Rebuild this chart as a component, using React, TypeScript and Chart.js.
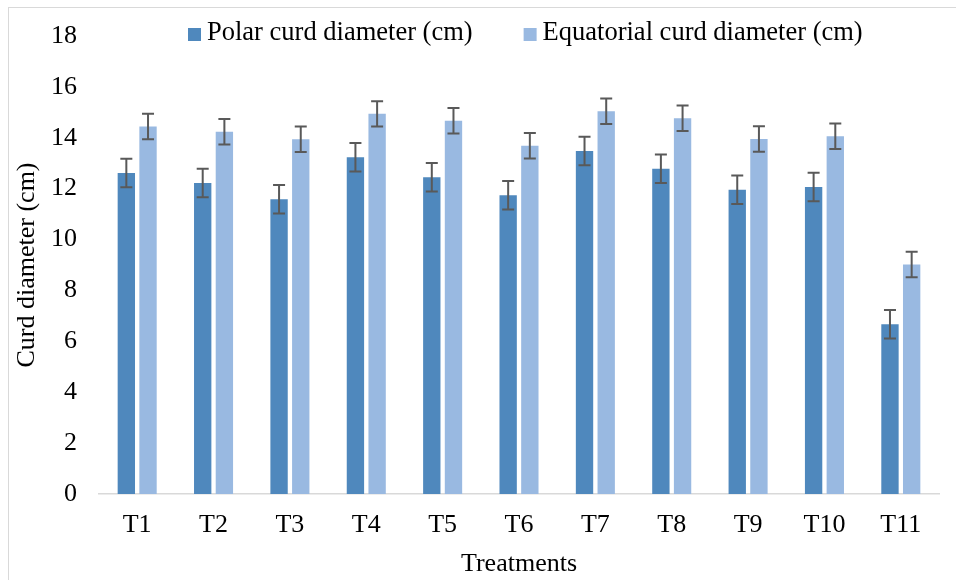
import React, { useEffect, useRef } from "react";
import { Chart, registerables } from "chart.js";

Chart.register(...registerables);

const categories = ["T1", "T2", "T3", "T4", "T5", "T6", "T7", "T8", "T9", "T10", "T11"];
const polarValues = [12.62, 12.22, 11.58, 13.23, 12.45, 11.74, 13.48, 12.78, 11.96, 12.07, 6.67];
const polarErrors = [0.56, 0.56, 0.56, 0.56, 0.56, 0.56, 0.56, 0.56, 0.56, 0.56, 0.56];
const equatorialValues = [14.44, 14.24, 13.94, 14.94, 14.67, 13.69, 15.04, 14.77, 13.95, 14.06, 9.02];
const equatorialErrors = [0.5, 0.5, 0.5, 0.5, 0.5, 0.5, 0.5, 0.5, 0.5, 0.5, 0.5];
const seriesLabels = ["Polar curd diameter (cm)", "Equatorial curd diameter (cm)"];
const yTicks = [0, 2, 4, 6, 8, 10, 12, 14, 16, 18];
const xTitle = "Treatments";
const yTitle = "Curd diameter (cm)";

const FONT = "'Liberation Serif', 'Times New Roman', serif";
const errors = [polarErrors, equatorialErrors];

const errorBarPlugin = {
  id: "errorBars",
  afterDatasetsDraw(chart: any) {
    const ctx = chart.ctx;
    const yScale = chart.scales.y;
    ctx.save();
    ctx.strokeStyle = "#595959";
    ctx.lineWidth = 2;
    chart.data.datasets.forEach((ds: any, i: number) => {
      const meta = chart.getDatasetMeta(i);
      meta.data.forEach((el: any, j: number) => {
        const v = ds.data[j];
        const e = errors[i][j];
        const x = el.x;
        const yt = yScale.getPixelForValue(v + e);
        const yb = yScale.getPixelForValue(v - e);
        const cap = 6;
        ctx.beginPath();
        ctx.moveTo(x, yt);
        ctx.lineTo(x, yb);
        ctx.moveTo(x - cap, yt);
        ctx.lineTo(x + cap, yt);
        ctx.moveTo(x - cap, yb);
        ctx.lineTo(x + cap, yb);
        ctx.stroke();
      });
    });
    ctx.restore();
  },
};

const legendPlugin = {
  id: "customLegend",
  afterDraw(chart: any) {
    const ctx = chart.ctx;
    const area = chart.chartArea;
    ctx.save();
    ctx.font = `26.5px ${FONT}`;
    ctx.textBaseline = "middle";
    ctx.textAlign = "left";
    let x = area.left + 89;
    const boxTop = 20;
    const box = 13;
    chart.data.datasets.forEach((ds: any) => {
      ctx.fillStyle = ds.backgroundColor;
      ctx.fillRect(x, boxTop, box, box);
      ctx.fillStyle = "#000";
      ctx.fillText(ds.label, x + box + 6, 25.5);
      const w = ctx.measureText(ds.label).width;
      x += box + 6 + w + 51;
    });
    ctx.restore();
  },
};

export default function App() {
  const ref = useRef<HTMLCanvasElement>(null);
  useEffect(() => {
    if (!ref.current) return;
    const chart = new Chart(ref.current, {
      type: "bar",
      data: {
        labels: categories,
        datasets: [
          {
            label: seriesLabels[0],
            data: polarValues,
            backgroundColor: "#4F88BD",
            categoryPercentage: 0.568,
            barPercentage: 0.8,
          },
          {
            label: seriesLabels[1],
            data: equatorialValues,
            backgroundColor: "#99B9E1",
            categoryPercentage: 0.568,
            barPercentage: 0.8,
          },
        ],
      },
      options: {
        animation: false,
        responsive: false,
        devicePixelRatio: 1,
        layout: { padding: { left: 0, right: 17, top: 28, bottom: 0 } },
        plugins: {
          legend: { display: false },
          tooltip: { enabled: false },
        },
        scales: {
          x: {
            grid: { display: false, drawTicks: false },
            border: { display: true, color: "#D9D9D9", width: 1.5 },
            ticks: { color: "#000", font: { family: FONT, size: 26 }, padding: 16 },
            title: {
              display: true,
              text: xTitle,
              color: "#000",
              font: { family: FONT, size: 26 },
              padding: { top: 0, bottom: 0 },
            },
            afterFit(scale: any) {
              scale.height = 86;
            },
          },
          y: {
            min: 0,
            max: 18,
            grid: { display: false, drawTicks: false },
            border: { display: false },
            afterBuildTicks(scale: any) {
              scale.ticks = yTicks.map((v) => ({ value: v }));
            },
            ticks: { color: "#000", font: { family: FONT, size: 26 }, padding: 22 },
            title: {
              display: true,
              text: yTitle,
              color: "#000",
              font: { family: FONT, size: 26 },
              padding: { top: 3, bottom: 0 },
            },
            afterFit(scale: any) {
              scale.width = 90;
              scale.paddingTop = 0;
              scale.paddingBottom = 0;
            },
          },
        },
      },
      plugins: [errorBarPlugin, legendPlugin],
    });
    return () => chart.destroy();
  }, []);

  return (
    <div
      style={{
        position: "absolute",
        left: 8,
        top: 7,
        width: 947,
        height: 572,
        borderTop: "1px solid #D9D9D9",
        borderLeft: "1px solid #D9D9D9",
        background: "#fff",
      }}
    >
      <canvas ref={ref} width={947} height={572} style={{ display: "block" }} />
    </div>
  );
}
